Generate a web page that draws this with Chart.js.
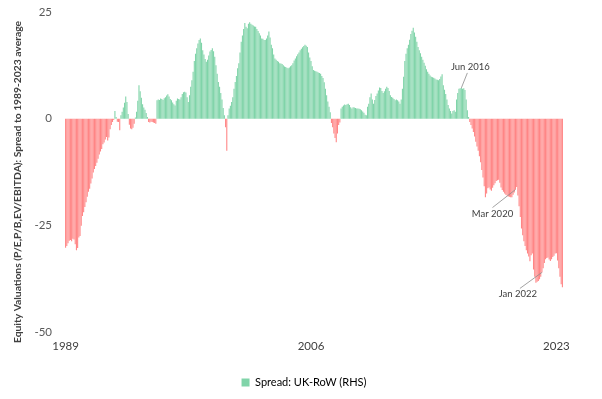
<!DOCTYPE html>
<html>
<head>
<meta charset="utf-8">
<script src="https://cdn.jsdelivr.net/npm/chart.js@4.4.0/dist/chart.umd.min.js"></script>
<style>
  html, body { margin: 0; padding: 0; background: #fff; }
  #wrap { width: 602px; height: 399px; }
</style>
</head>
<body>
<div id="wrap"><canvas id="spreadChart"></canvas></div>
<script>
// data, monthly from Jan 1989
const startYear = 1989;
const monthNames = ['Jan', 'Feb', 'Mar', 'Apr', 'May', 'Jun', 'Jul', 'Aug', 'Sep', 'Oct', 'Nov', 'Dec'];
const xTickYears = ['1989', '2006', '2023'];
const yTickValues = [25, 0, -25, -50];
const seriesName = 'Spread: UK-RoW (RHS)';
const yTitle = 'Equity Valuations (P/E,P/B,EV/EBITDA): Spread to 1989-2023 average';

const spread = [
    -30.2, -29.8, -29.2, -28.6, -28.4, -28.7, -28.1, -28.3, -29.4, -30.8, -30.3, -27.8, // 1989
    -27.5, -25.1, -22.8, -21.9, -20.7, -19.6, -18.3, -17.1, -16.4, -15.2, -14.0, -12.6, // 1990
    -11.8, -11.1, -10.3, -9.4, -8.4, -7.7, -7.1, -6.0, -5.6, -4.9, -4.3, -5.1,          // 1991
    -4.4, -2.5, -1.5, -0.8, -0.3, 1.8, 0.4, -0.7, -0.8, -2.7, 0.8, 1.6,                 // 1992
    2.6, 3.7, 5.2, 3.9, 1.1, -1.4, -2.3, -2.5, -2.1, -1.2, 0.3, 1.6,                    // 1993
    4.2, 7.8, 6.4, 4.9, 3.4, 2.6, 2.1, 1.3, 0.4, -0.8, -0.9, -0.7,                      // 1994
    -0.8, -0.9, -1.0, -1.2, 4.3, 4.5, 4.4, 4.7, 4.6, 4.4, 4.8, 5.0,                     // 1995
    5.4, 5.7, 5.2, 4.6, 4.3, 3.8, 3.4, 3.1, 4.2, 4.7, 4.6, 4.5,                         // 1996
    5.0, 5.8, 6.2, 6.3, 6.1, 5.0, 3.9, 5.5, 7.5, 9.0, 11.0, 13.5,                       // 1997
    15.2, 16.5, 17.6, 18.4, 18.8, 17.8, 16.0, 15.0, 14.0, 13.3, 13.8, 14.8,             // 1998
    15.7, 16.1, 16.5, 15.8, 14.5, 12.5, 10.5, 8.6, 7.5, 6.0, 4.5, 2.5,                  // 1999
    0.8, -2.0, -7.5, 0.8, 2.4, 3.0, 3.9, 5.0, 7.0, 8.6, 10.0, 11.8,                     // 2000
    13.0, 15.5, 18.0, 19.5, 21.0, 22.4, 21.5, 21.2, 22.2, 22.6, 22.2, 22.0,             // 2001
    21.8, 21.6, 21.5, 21.0, 20.5, 20.0, 19.5, 18.8, 18.7, 18.4, 18.4, 18.8,             // 2002
    19.5, 20.4, 19.0, 17.3, 16.5, 15.0, 14.1, 13.8, 13.5, 13.3, 13.0, 12.9,             // 2003
    12.8, 12.5, 12.2, 12.1, 11.9, 11.8, 12.0, 12.3, 12.5, 13.0, 13.6, 14.1,             // 2004
    14.6, 15.1, 15.5, 16.0, 16.4, 16.7, 17.0, 17.3, 17.1, 16.8, 15.5, 14.3,             // 2005
    13.5, 12.3, 11.4, 11.2, 11.1, 11.0, 10.8, 10.7, 10.5, 10.0, 9.5, 8.5,               // 2006
    7.0, 5.5, 4.0, 2.8, 1.5, -1.0, -2.0, -3.5, -4.5, -5.5, -3.5, -1.5,                  // 2007
    -0.9, 2.4, 2.8, 3.1, 3.3, 3.2, 3.4, 3.5, 3.2, 2.7, 2.4, 2.7,                        // 2008
    2.6, 2.5, 2.4, 2.4, 2.3, 2.2, 2.0, 1.7, 1.4, 0.9, 0.8, 2.8,                         // 2009
    3.5, 5.0, 5.9, 4.5, 3.5, 4.4, 5.3, 5.9, 6.6, 7.3, 7.2, 6.5,                         // 2010
    6.0, 6.4, 7.0, 7.5, 7.2, 6.5, 5.5, 5.1, 4.9, 4.6, 4.3, 4.5,                         // 2011
    4.3, 4.0, 3.5, 4.5, 7.0, 9.8, 13.5, 15.2, 16.5, 17.3, 18.5, 19.8,                   // 2012
    20.6, 21.3, 20.2, 19.2, 18.0, 16.8, 16.0, 15.3, 14.5, 13.8, 13.1, 12.4,             // 2013
    11.6, 11.0, 10.5, 10.1, 9.8, 9.7, 9.6, 9.4, 9.2, 9.1, 9.0, 9.3,                     // 2014
    9.9, 10.4, 7.8, 6.8, 5.8, 4.5, 3.2, 2.4, 1.8, 1.2, 1.8, 2.0,                        // 2015
    1.6, 4.5, 6.0, 7.0, 7.1, 7.2, 7.0, 7.1, 6.7, 4.5, 2.0, 0.4,                         // 2016
    -0.8, -1.5, -2.3, -3.1, -4.2, -5.4, -6.5, -7.5, -8.8, -10.2, -12.0, -13.8,          // 2017
    -15.8, -18.4, -17.5, -16.3, -16.1, -16.6, -16.9, -16.2, -15.6, -15.1, -14.6, -14.4, // 2018
    -14.3, -15.0, -16.1, -16.7, -17.1, -17.5, -17.8, -18.0, -18.2, -18.3, -18.4, -18.4, // 2019
    -17.8, -17.3, -16.6, -16.0, -18.0, -20.5, -23.0, -25.7, -27.3, -28.7, -29.8, -30.8, // 2020
    -31.6, -32.3, -33.4, -32.0, -31.6, -35.3, -37.0, -38.4, -38.2, -38.0, -37.6, -37.0, // 2021
    -36.0, -35.0, -33.8, -32.9, -32.6, -32.5, -33.0, -33.3, -32.9, -32.4, -32.1, -31.6, // 2022
    -31.5, -33.2, -35.0, -37.0, -38.8, -39.5                                            // 2023
];

const noteLabels = ['Jun 2016', 'Mar 2020', 'Jan 2022'];

const green = '#80D4A9';
const red = '#FF8585';

// month labels for the category axis
const labels = [];
for (let i = 0; i < spread.length; i++) {
    labels.push(monthNames[i % 12] + ' ' + (startYear + Math.floor(i / 12)));
}

// callout text offsets from the bar end (px)
const noteStyle = [
    { dx: 9, dy: -21, lx: -3, ly: 6 },
    { dx: -23, dy: 24, lx: 0, ly: -6 },
    { dx: -24, dy: 22, lx: 2, ly: -6 }
];

const calloutPlugin = {
    id: 'callouts',
    afterDatasetsDraw(chart) {
        const ctx = chart.ctx;
        const xs = chart.scales.x;
        const ys = chart.scales.y;
        ctx.save();
        ctx.font = '9.5px Lato';
        ctx.textAlign = 'center';
        ctx.textBaseline = 'middle';
        noteLabels.forEach(function (name, k) {
            const idx = labels.indexOf(name);
            const px = xs.getPixelForValue(idx);
            const py = ys.getPixelForValue(spread[idx]);
            const s = noteStyle[k];
            const tx = px + s.dx;
            const ty = py + s.dy;
            ctx.strokeStyle = '#8c8c8c';
            ctx.lineWidth = 0.8;
            ctx.beginPath();
            ctx.moveTo(tx + s.lx, ty + s.ly);
            ctx.lineTo(px, py);
            ctx.stroke();
            ctx.fillStyle = '#404040';
            ctx.fillText(name, tx, ty);
        });

        // y axis title, sits a bit below the plot's centre like the original
        const area = chart.chartArea;
        ctx.translate(18, (area.top + area.bottom) / 2 + 10);
        ctx.rotate(-Math.PI / 2);
        ctx.font = 'bold 10.3px Lato';
        ctx.fillStyle = '#404040';
        ctx.fillText(yTitle, 0, 0);
        ctx.restore();
    }
};

const ctx = document.getElementById('spreadChart').getContext('2d');
const spreadChart = new Chart(ctx, {
    type: 'bar',
    data: {
        labels: labels,
        datasets: [{
            label: seriesName,
            data: spread,
            backgroundColor: spread.map(v => v >= 0 ? green : red),
            borderWidth: 0,
            barPercentage: 0.9,
            categoryPercentage: 1.0
        }]
    },
    options: {
        responsive: true,
        maintainAspectRatio: false,
        animation: false,
        layout: {
            padding: { left: 12, right: 6, top: 3, bottom: 1 }
        },
        plugins: {
            tooltip: { enabled: false },
            legend: {
                position: 'bottom',
                labels: {
                    font: { family: 'Lato', size: 11 },
                    color: '#404040',
                    boxWidth: 8,
                    boxHeight: 8,
                    generateLabels: function () {
                        return [{ text: seriesName, fillStyle: green, strokeStyle: green, lineWidth: 0, datasetIndex: 0 }];
                    }
                }
            }
        },
        scales: {
            x: {
                grid: { display: false },
                border: { display: false },
                afterFit: function (scale) { scale.height += 15; },
                ticks: {
                    autoSkip: false,
                    maxRotation: 0,
                    font: { family: 'Lato', size: 11.5 },
                    color: '#404040',
                    padding: -1,
                    callback: function (val, i) {
                        const lab = labels[i];
                        if (lab.startsWith('Jan ') && xTickYears.includes(lab.slice(4))) return lab.slice(4);
                        return null;
                    }
                }
            },
            y: {
                min: -50,
                max: 25,
                afterFit: function (scale) { scale.width = 53; },
                afterBuildTicks: function (scale) {
                    scale.ticks = yTickValues.map(v => ({ value: v }));
                },
                grid: { display: false },
                border: { display: false },
                ticks: {
                    font: { family: 'Lato', size: 11.5 },
                    color: '#595959',
                    padding: 5
                }
            },
            // empty right-hand axis, only keeps room on the right
            yRight: {
                position: 'right',
                display: true,
                afterFit: function (scale) { scale.width = 33; },
                grid: { display: false },
                border: { display: false },
                ticks: { display: false }
            }
        }
    },
    plugins: [calloutPlugin]
});
</script>
</body>
</html>
